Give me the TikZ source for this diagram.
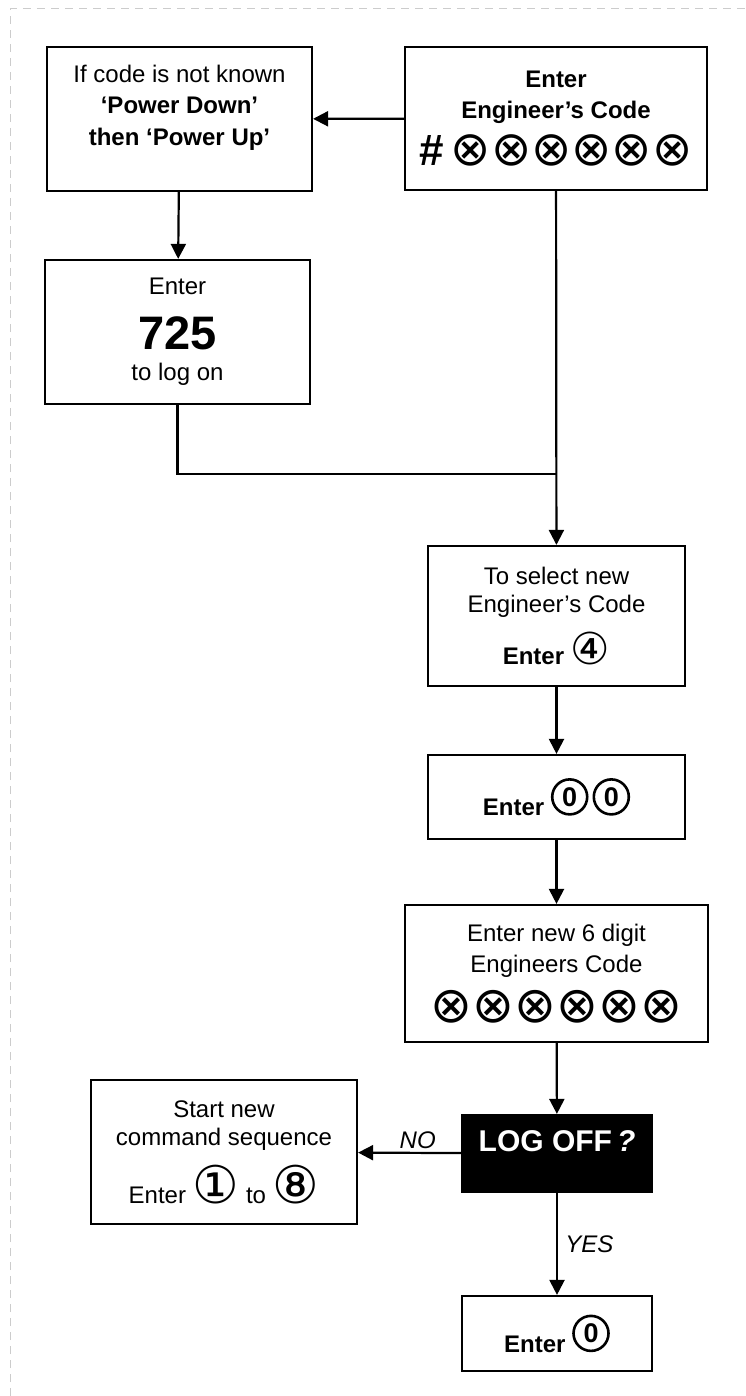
\documentclass[tikz,border=0pt]{standalone}
\usepackage{fontspec}
\setmainfont{Liberation Sans}
\newfontfamily\symfont{DejaVu Sans}
\usetikzlibrary{arrows.meta}

% circled symbols, size in pt
\newcommand{\sym}[2][40]{{\symfont\fontsize{#1}{#1}\selectfont #2}}
% circled zero (no font here has the glyph)
\newcommand{\zdig}{\tikz[baseline=(z.south)]\node[circle,draw=black,line width=2.6pt,inner sep=0pt,
  minimum size=35pt,font=\fontsize{27}{27}\selectfont\bfseries] (z) {0};}

\begin{document}
\begin{tikzpicture}[x=1pt,y=-1pt,
  box/.style={shape=rectangle,draw=black,line width=2.2pt,align=center,inner sep=0pt,
    font=\fontsize{24}{31.5}\selectfont},
  flow/.style={-{Triangle[length=15pt,width=15pt]},line width=2.2pt},
  lbl/.style={font=\fontsize{24}{28}\selectfont\itshape}]
\useasboundingbox (0,0) rectangle (745,1396);
\draw[gray!40,line width=1.3pt,dash pattern=on 8pt off 6pt] (10.5,1396) -- (10.5,8.5) -- (745,8.5);

\node[box,minimum width=265pt,minimum height=144pt,text depth=28pt] (unknown) at (179.5,119)
  {If code is not known\\\textbf{‘Power Down’}\\\textbf{then ‘Power Up’}};
\node[box,minimum width=302pt,minimum height=143pt] (engcode) at (556,118.5)
  {\textbf{Enter}\\\textbf{Engineer’s Code}\\[10pt]{\fontsize{44}{44}\selectfont\bfseries\#}\ \sym[48]{⊗⊗⊗⊗⊗⊗}};
\node[box,minimum width=265pt,minimum height=144pt] (logon) at (177.5,332)
  {Enter\\[20pt]{\fontsize{47}{47}\selectfont\bfseries 725}\\[0pt]to log on};

\node[box,minimum width=257pt,minimum height=140pt] (select) at (556.5,616)
  {To select new\\[-3.5pt]Engineer’s Code\\[14pt]\textbf{Enter} \sym[44]{④}};
\node[box,minimum width=257pt,minimum height=84pt] (zeros) at (556.5,797)
  {\textbf{Enter} \zdig\,\zdig};
\node[box,minimum width=303pt,minimum height=137pt] (newcode) at (556.5,973.5)
  {Enter new 6 digit\\Engineers Code\\[12pt]\sym[50]{⊗⊗⊗⊗⊗⊗}};

\node[box,minimum width=266pt,minimum height=144pt] (startseq) at (224,1152)
  {Start new\\[-3.5pt]command sequence\\[13.5pt]Enter \sym[52]{①} to \sym[52]{⑧}};
\node[box,fill=black,text=white,minimum width=190pt,minimum height=77pt,text depth=25pt,
  font=\fontsize{30}{30}\selectfont\bfseries] (logoff) at (557,1153.5) {LOG OFF\,\textit{?}};
\node[box,minimum width=190pt,minimum height=75pt] (finish) at (557,1333.5)
  {\textbf{Enter} \zdig};

\coordinate (join) at (556,474);

\path [flow] (engcode) edge (unknown);
\path [flow] (unknown) edge (logon);
\draw [line width=2.2pt] (logon.south) |- (join);
\path [flow] (engcode) edge (select);
\path [flow] (select) edge (zeros);
\path [flow] (zeros) edge (newcode);
\path [flow] (newcode) edge (logoff);
\path [flow] (logoff) edge node[lbl,above,pos=0.42] {NO} (startseq);
\path [flow] (logoff) edge node[lbl,right=4pt] {YES} (finish);
\end{tikzpicture}
\end{document}
